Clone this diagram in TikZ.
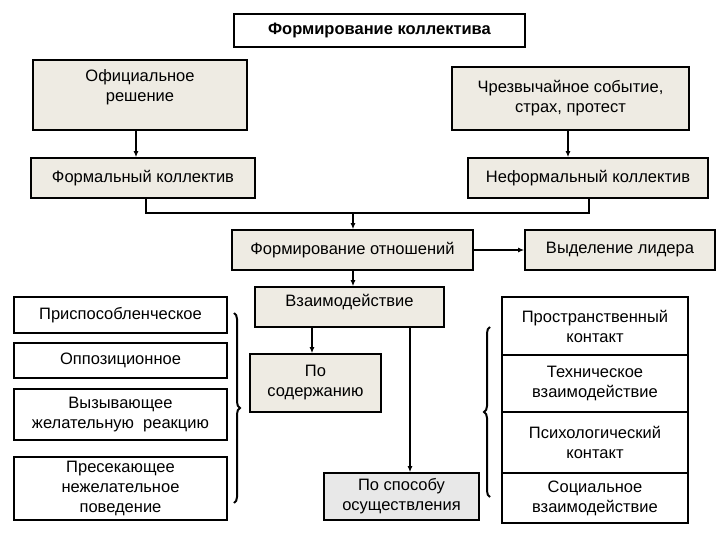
\documentclass[tikz,border=0pt]{standalone}
\usepackage{fontspec}
\setmainfont{Liberation Sans}
\usetikzlibrary{arrows.meta,decorations.pathreplacing}
\begin{document}
\begin{tikzpicture}[x=1pt,y=-1pt,
  bx/.style={draw,line width=1.6pt,fill=#1,align=center,font=\fontsize{16.5}{20}\selectfont,inner sep=0pt},
  bx/.default={beige},
  ar/.style={line width=1.6pt,-{Latex[length=6pt,width=5pt]}},
  ln/.style={line width=2.2pt}]
\definecolor{beige}{HTML}{EEEBE3}
\definecolor{lgray}{HTML}{E8E8E8}
\useasboundingbox (0,0) rectangle (720,540);
\newcommand{\bxat}[6]{\node[bx=#6,minimum width=#3-#1,minimum height=#4-#2] (#5) at ({(#1+#3)/2},{(#2+#4)/2})}
\bxat{234}{14}{525}{47}{t}{white} {\textbf{Формирование коллектива}};
\bxat{33}{60}{247}{130}{o}{beige} {Официальное\\решение\\[-2pt]};
\bxat{452}{67}{689}{130}{c}{beige} {Чрезвычайное событие,\\страх, протест};
\bxat{31}{158}{255}{198}{f}{beige} {Формальный коллектив};
\bxat{468}{158}{708}{198}{n}{beige} {Неформальный коллектив};
\bxat{232}{230}{473}{270}{r}{beige} {Формирование отношений};
\bxat{525}{230}{715}{270}{l}{beige} {Выделение лидера};
\bxat{255}{287}{444}{327}{v}{beige} {Взаимодействие\\[-6pt]};
\bxat{250}{354}{381}{412}{s}{beige} {По\\содержанию};
\bxat{324}{473}{479}{520}{p}{lgray} {По способу\\осуществления};
\bxat{14}{297}{227}{333}{a1}{white} {Приспособленческое};
\bxat{14}{343}{227}{378}{a2}{white} {Оппозиционное};
\bxat{14}{389}{227}{440}{a3}{white} {Вызывающее\\желательную\ \ реакцию};
\bxat{14}{457}{227}{520}{a4}{white} {Пресекающее\\нежелательное\\поведение};
\bxat{502}{297}{688}{355}{b1}{white} {Пространственный\\контакт};
\bxat{502}{355}{688}{412}{b2}{white} {Техническое\\взаимодействие};
\bxat{502}{412}{688}{473}{b3}{white} {Психологический\\контакт};
\bxat{502}{473}{688}{523}{b4}{white} {Социальное\\взаимодействие};
\draw[ar] (o.south -| 136,0) -- (f.north -| 136,0);
\draw[ar] (c.south -| 568,0) -- (n.north -| 568,0);
\coordinate (j) at (353,213);
\draw[ln] (f.south -| 146,0) |- (j) -| (n.south -| 589,0);
\draw[ar,line width=2.2pt] (j) -- (r.north -| j);
\draw[ar] (r) -- (l);
\draw[ar] (r.south -| 353,0) -- (v.north -| 353,0);
\draw[ar] (v.south -| 312,0) -- (s.north -| 312,0);
\draw[ar] (v.south -| 410,0) -- (p.north -| 410,0);
\draw[line width=2pt,decorate,decoration={brace,amplitude=6pt}] (234,313) -- (234,503);
\draw[line width=2pt,decorate,decoration={brace,amplitude=6pt}] (490,497) -- (490,327);
\end{tikzpicture}
\end{document}
